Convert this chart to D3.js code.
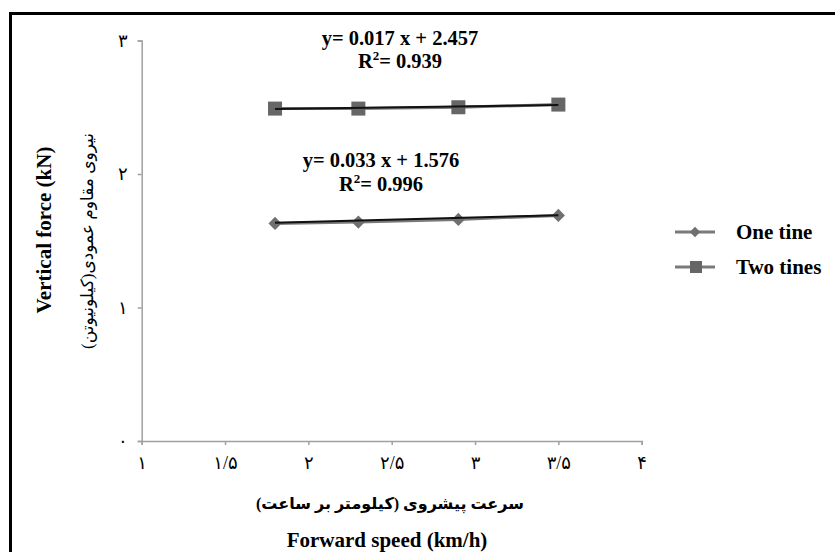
<!DOCTYPE html>
<html><head><meta charset="utf-8">
<script src="https://cdn.jsdelivr.net/npm/d3@7"></script>
<style>
html,body{margin:0;background:#fff;overflow:hidden;}
svg{display:block;}
</style></head>
<body>
<script>
const speeds = [1.8, 2.3, 2.9, 3.5];
const oneTine = [1.63, 1.64, 1.66, 1.69];
const twoTines = [2.49, 2.49, 2.50, 2.52];
const seriesNames = ["One tine", "Two tines"];
const xTicks = [1, 1.5, 2, 2.5, 3, 3.5, 4];
const xTickLabels = ["۱", "۱/۵", "۲", "۲/۵", "۳", "۳/۵", "۴"];
const yTicks = [0, 1, 2, 3];
const yTickLabels = ["۰", "۱", "۲", "۳"];
const trendSlopes = [0.033, 0.017];
const trendIntercepts = [1.576, 2.457];
const trendR2 = ["0.996", "0.939"];

const W = 835, H = 552;
const svg = d3.select("body").append("svg").attr("width", W).attr("height", H);
const serif = "'Liberation Serif','Times New Roman',serif";
const fa = "'Liberation Serif','DejaVu Sans',serif";

// outer frame (top and left edges visible)
svg.append("path").attr("d", `M10.5,${H + 5} V13.5 H${W + 5}`)
  .attr("fill", "none").attr("stroke", "#000").attr("stroke-width", 3);

const x = d3.scaleLinear().domain([1, 4]).range([141.7, 641.7]);
const y = d3.scaleLinear().domain([0, 3]).range([441, 40.5]);

const gx = svg.append("g").attr("transform", `translate(0,${y(0)})`)
  .call(d3.axisBottom(x).tickValues(xTicks).tickSize(4).tickPadding(11)
    .tickFormat((d, i) => xTickLabels[i]));
const gy = svg.append("g").attr("transform", `translate(${x(1)},0)`)
  .call(d3.axisLeft(y).tickValues(yTicks).tickSize(4).tickPadding(10)
    .tickFormat((d, i) => yTickLabels[i]));
[gx, gy].forEach(g => {
  g.select(".domain").attr("stroke", "#a0a0a0").attr("stroke-width", 1.5);
  g.selectAll(".tick line").attr("stroke", "#a0a0a0").attr("stroke-width", 1.5);
  g.selectAll(".tick text").attr("fill", "#000").style("font-family", fa).style("font-size", "18px");
});

const data = [oneTine, twoTines];
const line = d3.line().x(d => x(d[0])).y(d => y(d[1]));
data.forEach((vals, s) => {
  const pts = speeds.map((v, i) => [v, vals[i]]);
  svg.append("path").attr("d", line(pts)).attr("fill", "none")
    .attr("stroke", "#7a7a7a").attr("stroke-width", 3);
  pts.forEach(p => {
    if (s === 0) {
      svg.append("path").attr("d", d3.symbol(d3.symbolDiamond2, 110)())
        .attr("transform", `translate(${x(p[0])},${y(p[1])})`).attr("fill", "#707070");
    } else {
      svg.append("rect").attr("x", x(p[0]) - 7).attr("y", y(p[1]) - 7)
        .attr("width", 14).attr("height", 14).attr("fill", "#666");
    }
  });
  // trendline
  const x0 = speeds[0], x1 = speeds[speeds.length - 1];
  svg.append("path").attr("d", line([[x0, trendSlopes[s] * x0 + trendIntercepts[s]], [x1, trendSlopes[s] * x1 + trendIntercepts[s]]]))
    .attr("fill", "none").attr("stroke", "#111").attr("stroke-width", 2);
});

// equations
function eq(cx, cy, dy, s) {
  svg.append("text").attr("x", cx).attr("y", cy).attr("text-anchor", "middle")
    .style("font-family", serif).style("font-weight", "bold").style("font-size", "20.5px")
    .text(`y= ${trendSlopes[s]} x + ${trendIntercepts[s]}`);
  const t = svg.append("text").attr("x", cx).attr("y", cy + dy).attr("text-anchor", "middle")
    .style("font-family", serif).style("font-weight", "bold").style("font-size", "20.5px");
  t.append("tspan").text("R");
  t.append("tspan").attr("dy", -8).style("font-size", "13px").text("2");
  t.append("tspan").attr("dy", 8).text("= " + trendR2[s]);
}
eq(400, 45, 23, 1);
eq(381, 167, 24, 0);

// legend
const leg = svg.append("g");
seriesNames.forEach((n, i) => {
  const ly = 232 + i * 35;
  leg.append("line").attr("x1", 675).attr("x2", 715).attr("y1", ly).attr("y2", ly)
    .attr("stroke", "#7a7a7a").attr("stroke-width", 3);
  if (i === 0) {
    leg.append("path").attr("d", d3.symbol(d3.symbolDiamond2, 70)())
      .attr("transform", `translate(695,${ly})`).attr("fill", "#707070");
  } else {
    leg.append("rect").attr("x", 690).attr("y", ly - 6).attr("width", 12).attr("height", 12).attr("fill", "#666");
  }
  leg.append("text").attr("x", 736).attr("y", ly + 7)
    .style("font-family", serif).style("font-weight", "bold").style("font-size", "21px").text(n);
});

// axis titles
svg.append("text").attr("transform", "translate(51,230) rotate(-90)").attr("text-anchor", "middle")
  .style("font-family", serif).style("font-weight", "bold").style("font-size", "21px")
  .text("Vertical force (kN)");
svg.append("text").attr("transform", "translate(93,241) rotate(-90)").attr("text-anchor", "middle")
  .attr("direction", "rtl")
  .style("font-family", fa).style("font-size", "17px")
  .text("نیروی مقاوم عمودی(کیلونیوتن)");
svg.append("text").attr("x", 390).attr("y", 509).attr("text-anchor", "middle").attr("direction", "rtl")
  .style("font-family", fa).style("font-size", "16px").style("font-weight", "bold")
  .text("سرعت پیشروی (کیلومتر بر ساعت)");
svg.append("text").attr("x", 387).attr("y", 547).attr("text-anchor", "middle")
  .style("font-family", serif).style("font-weight", "bold").style("font-size", "21px")
  .text("Forward speed (km/h)");
</script>
</body></html>
